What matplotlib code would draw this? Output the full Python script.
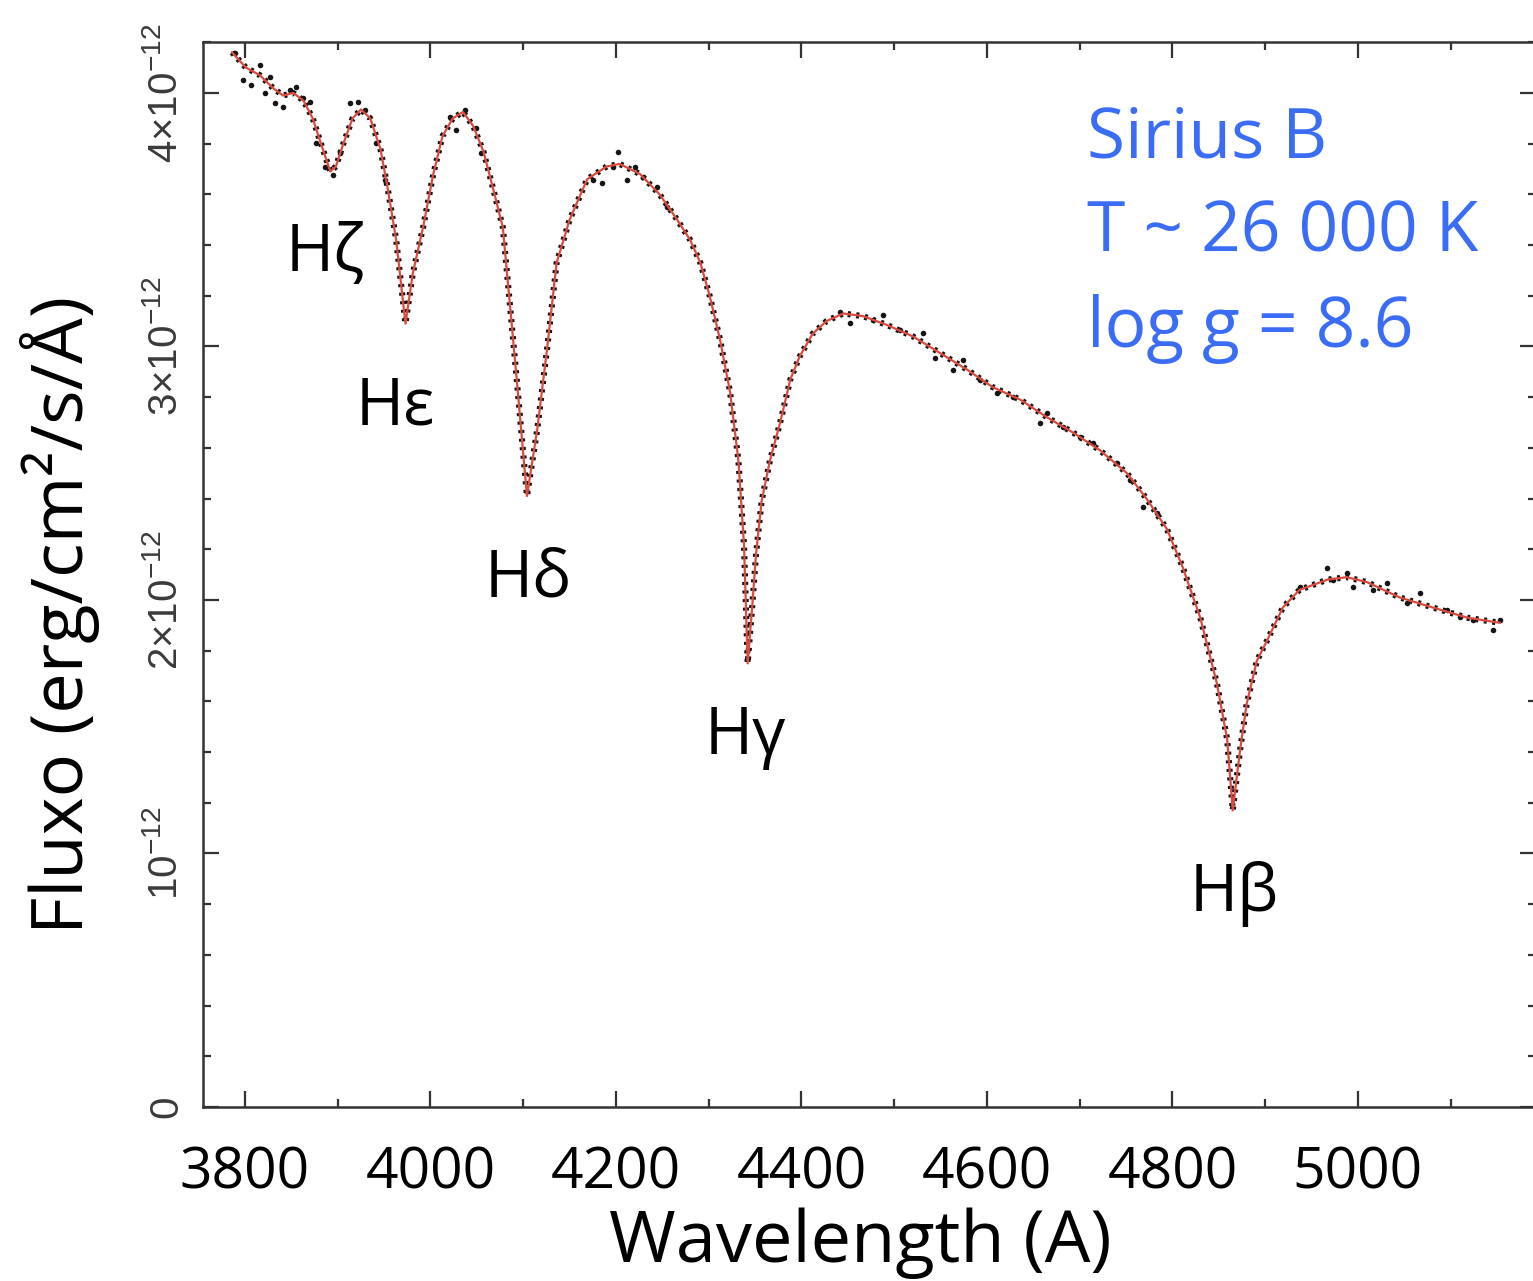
"""
Sirius B optical spectrum: observed flux with the model atmosphere fit,
Balmer lines labelled.
"""

import matplotlib
matplotlib.use("Agg")
import matplotlib.pyplot as plt
from matplotlib.ticker import FixedLocator, MultipleLocator

# model fit (wavelength in A, flux in units of 1e-12 erg/cm2/s/A)
lam_model = [3786, 3801, 3816, 3830, 3841, 3852, 3863, 3873, 3881, 3892,
             3898, 3906, 3916, 3925, 3935, 3946, 3954, 3963, 3973, 3981,
             3992, 4003, 4013, 4024, 4035, 4046, 4057, 4067, 4078, 4093,
             4104, 4115, 4126, 4136, 4150, 4169, 4190, 4204, 4226, 4247,
             4266, 4280, 4291, 4301, 4312, 4323, 4332, 4338, 4342, 4347,
             4351, 4357, 4366, 4377, 4388, 4398, 4412, 4427, 4445, 4466,
             4492, 4520, 4549, 4578, 4606, 4636, 4665, 4693, 4722, 4751,
             4772, 4794, 4811, 4830, 4848, 4859, 4865, 4873, 4880, 4891,
             4902, 4919, 4937, 4967, 4988, 5010, 5045, 5081, 5118, 5153]
flux_model = [4.16, 4.10, 4.07, 4.02, 3.99, 4.00, 3.97, 3.90, 3.81, 3.69,
              3.71, 3.80, 3.90, 3.935, 3.90, 3.78, 3.62, 3.42, 3.09, 3.29,
              3.47, 3.68, 3.83, 3.90, 3.925, 3.87, 3.77, 3.63, 3.47, 2.87,
              2.41, 2.67, 3.00, 3.33, 3.50, 3.66, 3.71, 3.72, 3.68, 3.60,
              3.50, 3.42, 3.33, 3.20, 3.03, 2.82, 2.55, 2.22, 1.75, 1.98,
              2.18, 2.39, 2.55, 2.70, 2.87, 2.96, 3.05, 3.10, 3.13, 3.12,
              3.085, 3.04, 2.975, 2.91, 2.84, 2.79, 2.72, 2.66, 2.59, 2.50,
              2.40, 2.28, 2.13, 1.93, 1.67, 1.45, 1.17, 1.41, 1.59, 1.76,
              1.84, 1.97, 2.04, 2.08, 2.09, 2.07, 2.01, 1.97, 1.93, 1.91]

# scattered observed points off the fit
lam_obs = [3789, 3798, 3806, 3816, 3822, 3827, 3832, 3841, 3849, 3855,
           3863, 3870, 3877, 3886, 3895, 3902, 3913, 3922, 3929, 3941,
           3951, 4021, 4027, 4037, 4049, 4054, 4175, 4185, 4197, 4202,
           4212, 4220, 4229, 4244, 4255, 4442, 4452, 4477, 4488, 4506,
           4531, 4544, 4563, 4574, 4592, 4611, 4628, 4657, 4665, 4682,
           4700, 4714, 4740, 4754, 4768, 4783, 4937, 4967, 4973, 4988,
           4995, 5016, 5031, 5053, 5067, 5096, 5110, 5124, 5146, 5153]
flux_obs = [4.158, 4.051, 4.032, 4.110, 4.000, 4.063, 3.961, 3.945, 4.012, 4.024,
            3.980, 3.964, 3.803, 3.708, 3.677, 3.763, 3.961, 3.964, 3.933, 3.803,
            3.657, 3.905, 3.854, 3.933, 3.862, 3.763, 3.657, 3.645, 3.708, 3.767,
            3.657, 3.708, 3.669, 3.629, 3.550, 3.136, 3.093, 3.105, 3.124, 3.065,
            3.053, 2.955, 2.907, 2.947, 2.868, 2.817, 2.801, 2.698, 2.738, 2.682,
            2.643, 2.619, 2.540, 2.473, 2.367, 2.343, 2.051, 2.126, 2.079, 2.107,
            2.051, 2.039, 2.067, 1.988, 2.028, 1.961, 1.933, 1.921, 1.882, 1.921]

# Balmer line labels, placed below each absorption core
line_names = ["Hζ", "Hε", "Hδ", "Hγ", "Hβ"]
line_lam = [3887, 3962, 4105, 4340, 4867]
line_flux = [3.37, 2.76, 2.08, 1.46, 0.84]

star_info = ["Sirius B", "T ~ 26 000 K", "log g = 8.6"]

x_major = [3800, 4000, 4200, 4400, 4600, 4800, 5000]
y_major = [0, 1, 2, 3, 4]
y_labels = ["0", "10$^{-12}$", "2×10$^{-12}$", "3×10$^{-12}$", "4×10$^{-12}$"]

W, H = 1533, 1281
plt.rcParams["mathtext.default"] = "regular"
fig = plt.figure(figsize=(W / 100, H / 100), dpi=100)
ax = fig.add_axes([203 / W, 174 / H, 1333 / W, 1065 / H])

blue = "#3b6cf6"
red = "#dc4a40"
ink = "#333333"

# observed trace (dotted) under the red model curve
ax.plot(lam_model, flux_model, color="#151515", lw=4.4, ls=(0, (0.5, 0.9)),
        zorder=2)
ax.scatter(lam_obs, flux_obs, s=16, color="#151515", lw=0, zorder=2)
ax.plot(lam_model, flux_model, color=red, lw=1.6, zorder=3)

ax.set_xlim(3754.7, 5192)
ax.set_ylim(0, 4.201)

ax.xaxis.set_major_locator(FixedLocator(x_major))
ax.xaxis.set_minor_locator(MultipleLocator(100))
ax.yaxis.set_major_locator(FixedLocator(y_major))
ax.yaxis.set_minor_locator(MultipleLocator(0.2))
ax.set_yticklabels(y_labels, family=["Liberation Sans", "DejaVu Sans"],
                   fontsize=29, color="#3a3a3a", rotation=90, va="center")
ax.set_xticklabels([str(v) for v in x_major], family="Open Sans",
                   fontsize=41, color="black")

ax.tick_params(which="both", direction="in", top=True, right=True,
               color=ink, width=1.6)
ax.tick_params(which="major", length=11.5)
ax.tick_params(which="minor", length=5.5)
ax.tick_params(axis="x", which="major", pad=28)
ax.tick_params(axis="y", which="major", pad=13)
for sp in ax.spines.values():
    sp.set_color(ink)
    sp.set_linewidth(1.8)

for name, lx, ly in zip(line_names, line_lam, line_flux):
    ax.text(lx, ly, name, fontsize=47, family="Open Sans", ha="center",
            va="center", color="black")

for i, line in enumerate(star_info):
    fig.text(1087 / W, 1 - (157 + 95 * i) / H, line, fontsize=50,
             family="Open Sans", color=blue, ha="left", va="baseline")

fig.text(860 / W, 1 - 1243 / H, "Wavelength (A)", fontsize=52,
         family="Open Sans", ha="center", va="center")
fig.text(60 / W, 1 - 615 / H, "Fluxo (erg/cm²/s/Å)", fontsize=52,
         family="Open Sans", ha="center", va="center", rotation=90)

fig.savefig("out.png", dpi=100)
